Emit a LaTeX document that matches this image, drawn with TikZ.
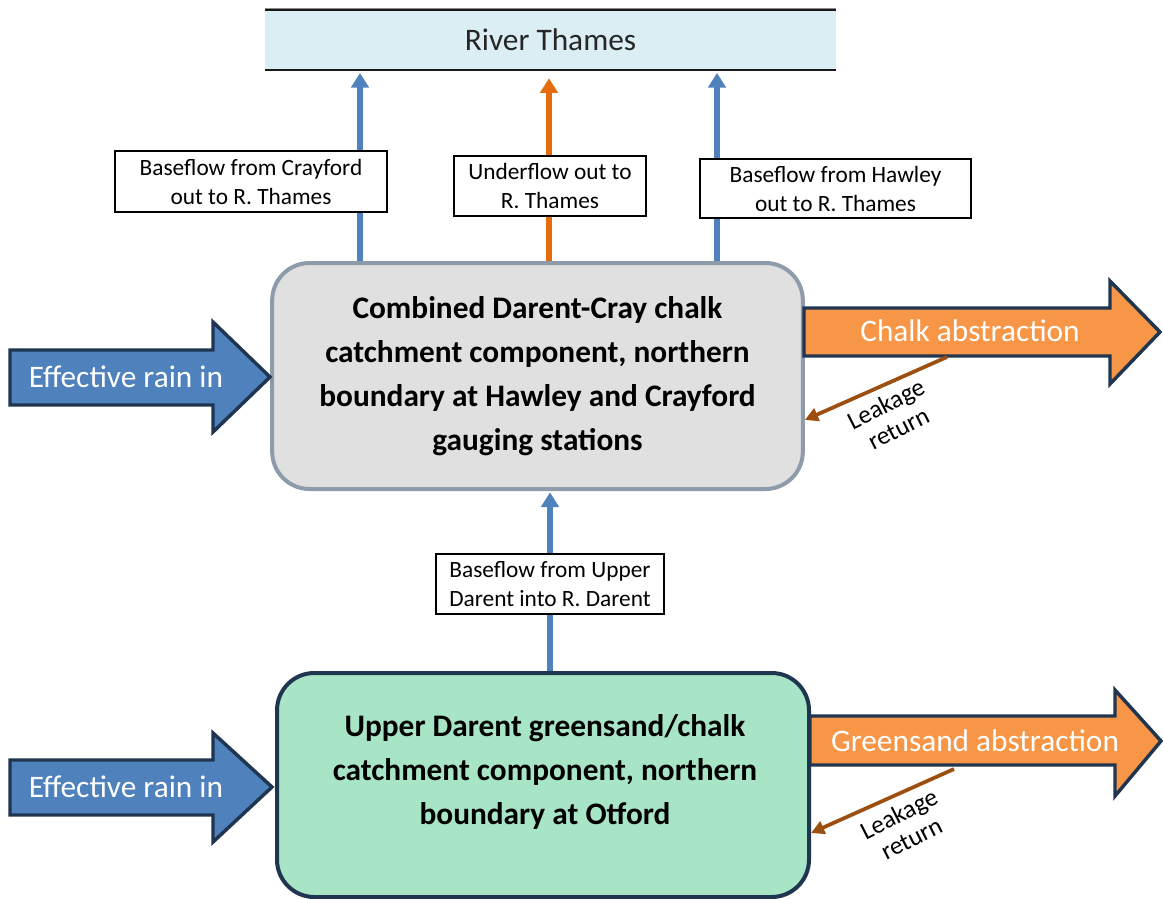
\documentclass[tikz,border=0pt]{standalone}
\usepackage{fontspec}
\setmainfont{Carlito}
\usetikzlibrary{arrows.meta}
\definecolor{navy}{HTML}{1F3550}
\definecolor{rainblue}{HTML}{4F81BD}
\definecolor{orangefill}{HTML}{F79646}
\definecolor{orangeline}{HTML}{E46C0A}
\definecolor{leakbrown}{HTML}{9C4F0E}
\definecolor{riverfill}{HTML}{DAEEF3}
\definecolor{greyfill}{HTML}{E0E0E0}
\definecolor{greyline}{HTML}{8E9BAB}
\definecolor{greenfill}{HTML}{A8E4C6}
\tikzset{
  bigarrow/.style={draw=navy, line width=2.6pt, line join=miter},
  bigtext/.style={text=white, font=\fontsize{23.5}{28}\selectfont, inner sep=0pt},
  flowbox/.style={draw=black, line width=0.9pt, fill=white, align=center,
    font=\fontsize{17.5}{21.75}\selectfont, inner sep=0pt},
  mainbox/.style={rectangle, rounded corners=28pt, line width=3pt, align=center,
    font=\bfseries\fontsize{23.5}{33}\selectfont, inner sep=0pt},
  flowarrow/.style={line width=4pt, -{Triangle[width=13pt,length=11pt]}},
  leak/.style={leakbrown, line width=2.8pt, -{Triangle[width=10pt,length=10pt]}},
  leaktext/.style={align=center, font=\fontsize{19}{20.5}\selectfont, rotate=27, inner sep=0pt},
}
\begin{document}
\begin{tikzpicture}[x=0.75pt,y=-0.75pt]
\useasboundingbox (0,0) rectangle (1163,899);
% River Thames
\node[fill=riverfill, minimum width=428.25pt, minimum height=45pt, inner sep=0pt,
  font=\fontsize{23.5}{28}\selectfont, text=black!85] (river) at (550.5,40) {River Thames};
\draw[black!45, line width=0.8pt] (river.north west) ++(0,-1) -- ++(571,0);
\draw[black!90, line width=1.4pt] (river.north west) -- (river.north east);
\draw[black!45, line width=0.8pt] (river.south west) ++(0,-1.2) -- ++(571,0);
\draw[black!90, line width=1.4pt] (river.south west) -- (river.south east);
% main boxes
\node[mainbox, draw=greyline, fill=greyfill, minimum width=398pt, minimum height=169.5pt]
  (grey) at (537.5,376) {Combined Darent-Cray chalk\\catchment component, northern\\boundary at Hawley and Crayford\\gauging stations};
\node[mainbox, draw=navy, fill=greenfill, minimum width=399pt, minimum height=168pt]
  (green) at (543,785) {};
\node[align=center, font=\bfseries\fontsize{23.5}{33}\selectfont, inner sep=0pt] (greentext) at (545,772)
  {Upper Darent greensand/chalk\\catchment component, northern\\boundary at Otford};
% rain arrows
\coordinate (r1tip) at (270,377);
\draw[bigarrow, fill=rainblue] (10,350) -- (213,350) -- (213,322) -- (r1tip) -- (213,432) -- (213,405) -- (10,405) -- cycle;
\node[bigtext] (rain1) at (126,377) {Effective rain in};
\coordinate (r2tip) at (272,787);
\draw[bigarrow, fill=rainblue] (10,760) -- (213,760) -- (213,733) -- (r2tip) -- (213,842) -- (213,815) -- (10,815) -- cycle;
\node[bigtext] (rain2) at (126,787) {Effective rain in};
% abstraction arrows
\coordinate (a1tip) at (1160,332);
\draw[bigarrow, fill=orangefill] (804,308) -- (1110,308) -- (1110,281) -- (a1tip) -- (1110,384) -- (1110,356) -- (804,356) -- cycle;
\node[bigtext] (chalk) at (970,331) {Chalk abstraction};
\coordinate (a2tip) at (1161,741);
\draw[bigarrow, fill=orangefill] (810,716) -- (1115,716) -- (1115,690) -- (a2tip) -- (1115,796) -- (1115,765) -- (810,765) -- cycle;
\node[bigtext] (green abs) at (975,741) {Greensand abstraction};
% leakage
\coordinate (l1s) at (947,357);
\coordinate (l2s) at (954,769);
\draw[leak] (l1s) -- (grey.east |- 0,420);
\draw[leak] (l2s) -- (green.east |- 0,833);
\node[leaktext] (leak1) at (892,416) {Leakage\\return};
\node[leaktext] (leak2) at (905,826) {Leakage\\return};
% vertical flows
\draw[flowarrow, rainblue] (grey.north -| 360,0) -- ([yshift=-2pt]river.south -| 360,0);
\draw[flowarrow, orangeline] (grey.north -| 549,0) -- ([yshift=-6pt]river.south -| 549,0);
\draw[flowarrow, rainblue] (grey.north -| 717,0) -- ([yshift=-2pt]river.south -| 717,0);
\draw[flowarrow, rainblue] (green.north -| 550,0) -- ([yshift=-1pt]grey.south -| 550,0);
% flow labels
\node[flowbox, minimum width=204pt, minimum height=45.75pt] (crayford) at (251,181.5) {Baseflow from Crayford\\out to R. Thames};
\node[flowbox, minimum width=144pt, minimum height=45pt] (underflow) at (550,186) {Underflow out to\\R. Thames};
\node[flowbox, minimum width=203.25pt, minimum height=44.25pt] (hawley) at (835.5,188.5) {Baseflow from Hawley\\out to R. Thames};
\node[flowbox, minimum width=171pt, minimum height=45pt] (upper) at (550,584) {Baseflow from Upper\\Darent into R. Darent};
\end{tikzpicture}
\end{document}
